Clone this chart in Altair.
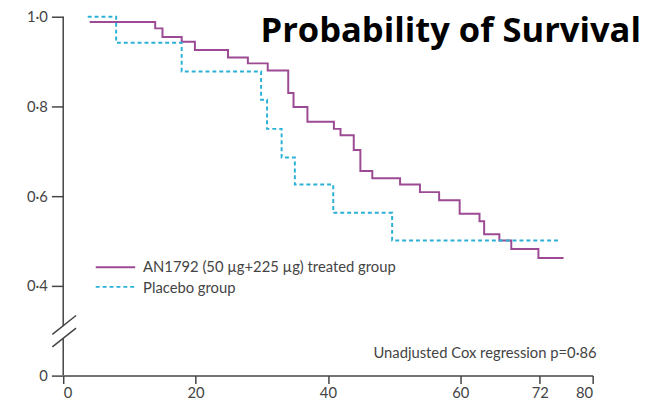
import altair as alt
import pandas as pd

# Treated group (AN1792) Kaplan-Meier steps
treated_t = [4, 13.9, 15, 17.9, 19.9, 24.9, 27.9, 30.9, 34.0, 34.8, 36.9, 40.9, 41.9, 43.9,
             44.9, 46.7, 50.9, 53.9, 56.8, 59.9, 62.9, 63.6, 65.9, 67.7, 71.8, 75.6]
treated_s = [0.988, 0.974, 0.955, 0.944, 0.926, 0.909, 0.896, 0.880, 0.830, 0.799, 0.766, 0.750,
             0.736, 0.703, 0.656, 0.640, 0.626, 0.609, 0.591, 0.561, 0.544, 0.515, 0.501, 0.482,
             0.462, 0.462]

# Placebo group steps
placebo_t = [3.7, 8, 17.9, 29.9, 30.8, 33.0, 35.0, 40.8, 49.7, 74.8]
placebo_s = [1.0, 0.942, 0.878, 0.815, 0.750, 0.686, 0.626, 0.563, 0.501, 0.501]

x_ticks = [0, 20, 40, 60, 72, 80]
# displayed y positions (0 is drawn at 0.2 because of the axis break)
y_ticks = [0.2, 0.4, 0.6, 0.8, 1.0]
y_labels = ["0", "0·4", "0·6", "0·8", "1·0"]

PURPLE = "#9c4a93"
CYAN = "#2bb0d6"
AX = "#444444"
FONT = "Lato"

df_t = pd.DataFrame({"t": treated_t, "s": treated_s})
df_p = pd.DataFrame({"t": placebo_t, "s": placebo_s})

label_expr = "{" + ",".join(f"'{v:.1f}':'{l}'" for v, l in zip(y_ticks, y_labels)) + "}[format(datum.value,'.1f')]"

xs = alt.Scale(domain=[0, 80], nice=False, zero=False)
ys = alt.Scale(domain=[0.2, 1.0], nice=False, zero=False)

xax = alt.Axis(values=x_ticks, grid=False, domain=True, domainColor=AX, domainWidth=1.5,
               tickColor=AX, tickWidth=1.5, tickSize=8, labelFont=FONT, labelFontSize=15,
               labelColor=AX, labelPadding=2, title=None)
yax = alt.Axis(values=y_ticks, grid=False, domain=False, tickColor=AX, tickWidth=1.5,
               tickSize=12, labelFont=FONT, labelFontSize=15, labelColor=AX, labelPadding=4,
               labelExpr=label_expr, title=None)

treated = alt.Chart(df_t).mark_line(interpolate="step-after", color=PURPLE, strokeWidth=2).encode(
    x=alt.X("t:Q", scale=xs, axis=xax),
    y=alt.Y("s:Q", scale=ys, axis=yax),
)
placebo = alt.Chart(df_p).mark_line(interpolate="step-after", color=CYAN, strokeWidth=2,
                                     strokeDash=[4, 3]).encode(
    x=alt.X("t:Q", scale=xs),
    y=alt.Y("s:Q", scale=ys),
)

base = alt.Chart(pd.DataFrame({"a": [0]}))

# y axis line with break
yline1 = base.mark_rule(color=AX, strokeWidth=1.5).encode(
    x=alt.value(0), y=alt.datum(1.0, scale=ys), y2=alt.datum(0.31))
yline2 = base.mark_rule(color=AX, strokeWidth=1.5).encode(
    x=alt.value(0), y=alt.datum(0.283, scale=ys), y2=alt.datum(0.2))
slash1 = base.mark_rule(color=AX, strokeWidth=1.5).encode(
    x=alt.value(-11), x2=alt.value(13), y=alt.datum(0.292, scale=ys), y2=alt.datum(0.334))
slash2 = base.mark_rule(color=AX, strokeWidth=1.5).encode(
    x=alt.value(-11), x2=alt.value(13), y=alt.datum(0.264, scale=ys), y2=alt.datum(0.306))

# legend
leg1 = base.mark_rule(color=PURPLE, strokeWidth=2).encode(
    x=alt.value(33), x2=alt.value(73), y=alt.value(254))
leg2 = base.mark_rule(color=CYAN, strokeWidth=2, strokeDash=[4, 3]).encode(
    x=alt.value(33), x2=alt.value(73), y=alt.value(274))
legt1 = base.mark_text(align="left", baseline="middle", font=FONT, fontSize=15, color=AX).encode(
    x=alt.value(81), y=alt.value(254), text=alt.value("AN1792 (50 µg+225 µg) treated group"))
legt2 = base.mark_text(align="left", baseline="middle", font=FONT, fontSize=15, color=AX).encode(
    x=alt.value(81), y=alt.value(275), text=alt.value("Placebo group"))

cox = base.mark_text(align="right", baseline="middle", font=FONT, fontSize=15, color=AX).encode(
    x=alt.value(541), y=alt.value(341), text=alt.value("Unadjusted Cox regression p=0·86"))

title = base.mark_text(align="right", baseline="alphabetic", font="Open Sans", fontSize=35,
                       fontWeight="bold", color="#000000").encode(
    x=alt.value(586), y=alt.value(26), text=alt.value("Probability of Survival"))

chart = alt.layer(treated, placebo, yline1, yline2, slash1, slash2, leg1, leg2, legt1, legt2,
                  cox, title).properties(
    width=537, height=364,
    autosize=alt.AutoSizeParams(type="none"),
    padding={"left": 56, "top": 6, "right": 48, "bottom": 30},
).configure_view(stroke=None)

chart.save("out.html", embed_options={"renderer": "svg", "actions": False})
